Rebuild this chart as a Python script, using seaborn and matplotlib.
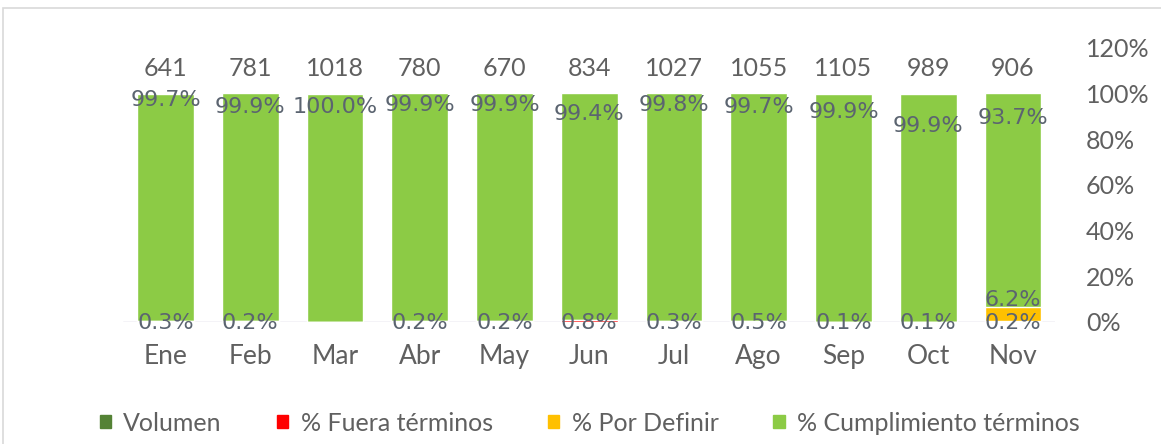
import numpy as np
import pandas as pd
import matplotlib
matplotlib.use('Agg')
import matplotlib.pyplot as plt
import matplotlib.patches as mpatches
import seaborn as sns

# Datos
meses = ['Ene', 'Feb', 'Mar', 'Abr', 'May', 'Jun', 'Jul', 'Ago', 'Sep', 'Oct', 'Nov']
volumen = [641, 781, 1018, 780, 670, 834, 1027, 1055, 1105, 989, 906]
fuera = [0.3, 0.2, 0.0, 0.2, 0.2, 0.8, 0.3, 0.5, 0.1, 0.1, 0.2]
por_definir = [0.0, 0.0, 0.0, 0.0, 0.0, 0.0, 0.0, 0.0, 0.0, 0.0, 6.2]
cumplimiento = [99.7, 99.9, 100.0, 99.9, 99.9, 99.4, 99.8, 99.7, 99.9, 99.9, 93.7]

df = pd.DataFrame({'Mes': meses, 'Volumen': volumen, 'Fuera': fuera,
                   'PorDefinir': por_definir, 'Cumplimiento': cumplimiento})
# acumulados para apilar
df['h_red'] = df['Fuera']
df['h_yel'] = df['Fuera'] + df['PorDefinir']
df['h_grn'] = df['h_yel'] + df['Cumplimiento']

sns.set_theme(style='white')
plt.rcParams['font.family'] = ['Lato', 'DejaVu Sans']

c_verde = '#8CCB45'
c_amarillo = '#FFC000'
c_rojo = '#FF0000'
c_vol = '#548235'
c_txt = '#606060'
c_lbl = '#5B6470'

fig = plt.figure(figsize=(11.61, 4.44), dpi=100)
ax = fig.add_axes([0.106, 0.275, 0.803, 0.617])

# marco del gráfico
fig.patches.append(mpatches.Rectangle((3 / 1161, -0.1), 1.2, 1 - 8 / 444 + 0.1,
                                      transform=fig.transFigure, fill=False,
                                      edgecolor='#D9D9D9', linewidth=1.2))

sns.barplot(data=df, x='Mes', y='h_grn', color=c_verde, width=0.67, ax=ax,
            saturation=1, zorder=2)
sns.barplot(data=df, x='Mes', y='h_yel', color=c_amarillo, width=0.67, ax=ax,
            saturation=1, zorder=3)
sns.barplot(data=df, x='Mes', y='h_red', color=c_rojo, width=0.67, ax=ax,
            saturation=1, zorder=4)

ax.set_ylim(0, 120)
ax.set_xlim(-0.5, len(meses) - 0.5)
ax.set_yticks(np.arange(0, 121, 20))
ax.set_yticklabels([f'{v}%' for v in range(0, 121, 20)])
ax.yaxis.tick_right()
ax.tick_params(axis='y', length=0, pad=22, labelsize=18, labelcolor=c_txt)
ax.tick_params(axis='x', length=0, pad=16, labelsize=19, labelcolor=c_txt)
ax.set_xlabel('')
ax.set_ylabel('')
for s in ax.spines.values():
    s.set_visible(False)
ax.axhline(0, color='#C9C3D9', linewidth=1, zorder=1)

# desplazamiento de etiquetas superiores (posición como en el original)
dy_top = [-3, -6, -6, -5, -5, -9, -5, -6, -8, -14, -11]

for i in range(len(meses)):
    ax.text(i, 111, str(volumen[i]), ha='center', va='center', fontsize=18,
            color=c_txt, clip_on=False, zorder=6)
    ax.text(i, df['h_grn'][i] + dy_top[i], f'{cumplimiento[i]:.1f}%',
            ha='center', va='center', fontsize=16, color=c_lbl,
            family='DejaVu Sans', zorder=6)
    if fuera[i] > 0:
        ax.text(i, -0.5, f'{fuera[i]:.1f}%', ha='center', va='center', fontsize=16,
                color=c_lbl, family='DejaVu Sans', clip_on=False, zorder=6)
    if por_definir[i] > 0:
        ax.text(i, 9.5, f'{por_definir[i]:.1f}%', ha='center', va='center',
                fontsize=16, color=c_lbl, family='DejaVu Sans', zorder=6)

# Leyenda
handles = [mpatches.Patch(color=c_vol, label='Volumen'),
           mpatches.Patch(color=c_rojo, label='% Fuera términos'),
           mpatches.Patch(color=c_amarillo, label='% Por Definir'),
           mpatches.Patch(color=c_verde, label='% Cumplimiento términos')]
fig.legend(handles=handles, loc='center', bbox_to_anchor=(0.508, 0.047), ncol=4,
           frameon=False, fontsize=18, handlelength=0.45, handleheight=0.45,
           handletextpad=0.5, columnspacing=2.2, labelcolor=c_txt)

fig.savefig('out.png', dpi=100)
